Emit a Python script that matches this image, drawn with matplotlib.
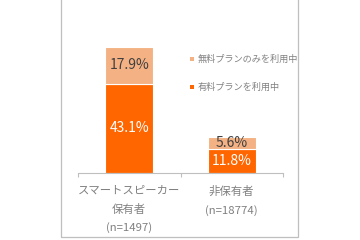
import matplotlib
matplotlib.use('Agg')
import matplotlib.pyplot as plt
from matplotlib.lines import Line2D
from matplotlib.patches import Rectangle

plt.rcParams['font.family'] = ['Noto Sans CJK JP', 'DejaVu Sans']

# データ
categories = ['スマートスピーカー\n保有者\n(n=1497)', '非保有者\n(n=18774)']
paid = [43.1, 11.8]
free_only = [17.9, 5.6]
series_names = ['有料プランを利用中', '無料プランのみを利用中']

c_paid = '#FF6600'
c_free = '#F4B183'

fig = plt.figure(figsize=(3.6, 2.4), dpi=100)
ax = fig.add_axes([78/360, 1 - 173/240, 205/360, 173/240])

x = range(len(categories))
w = 0.47
ax.bar(x, paid, width=w, color=c_paid, edgecolor='white', linewidth=0.8)
ax.bar(x, free_only, width=w, bottom=paid, color=c_free, edgecolor='white', linewidth=0.8)

for i in x:
    ax.text(i, paid[i] / 2, f'{paid[i]}%', ha='center', va='center',
            color='white', fontsize=10)
    ax.text(i, paid[i] + free_only[i] / 2, f'{free_only[i]}%', ha='center',
            va='center', color='#404040', fontsize=10)

ax.set_xlim(-0.5, 1.5)
ax.set_ylim(0, 173 / 2.07)
ax.set_yticks([])
for s in ['top', 'right', 'left']:
    ax.spines[s].set_visible(False)
ax.spines['bottom'].set_color('#BFBFBF')
ax.spines['bottom'].set_linewidth(0.8)

ax.set_xticks(list(x))
ax.set_xticklabels(categories, fontsize=8.2, color='#808080', linespacing=1.9)
ax.tick_params(axis='x', which='major', length=0, pad=9)
ax.set_xticks([-0.5, 0.5, 1.5], minor=True)
ax.tick_params(axis='x', which='minor', length=3, color='#BFBFBF', width=0.8)
ax.patch.set_visible(False)

# 凡例
handles = [Line2D([], [], marker='s', linestyle='none', markersize=2.6,
                  markeredgewidth=0, color=c_free),
           Line2D([], [], marker='s', linestyle='none', markersize=2.6,
                  markeredgewidth=0, color=c_paid)]
leg = fig.legend(handles, [series_names[1], series_names[0]], loc='upper left',
                 bbox_to_anchor=(190/360, 1 - 55/240), frameon=False,
                 fontsize=6.6, handlelength=0.5, handletextpad=0.35,
                 labelspacing=2.0, borderpad=0, borderaxespad=0)
for t in leg.get_texts():
    t.set_color('#808080')

# 外枠
fig.add_artist(Rectangle((61/360, 1 - 237/240), 237/360, 240/240,
                         transform=fig.transFigure, fill=False,
                         edgecolor='#BFBFBF', linewidth=0.9))

fig.savefig('out.png', dpi=100)
